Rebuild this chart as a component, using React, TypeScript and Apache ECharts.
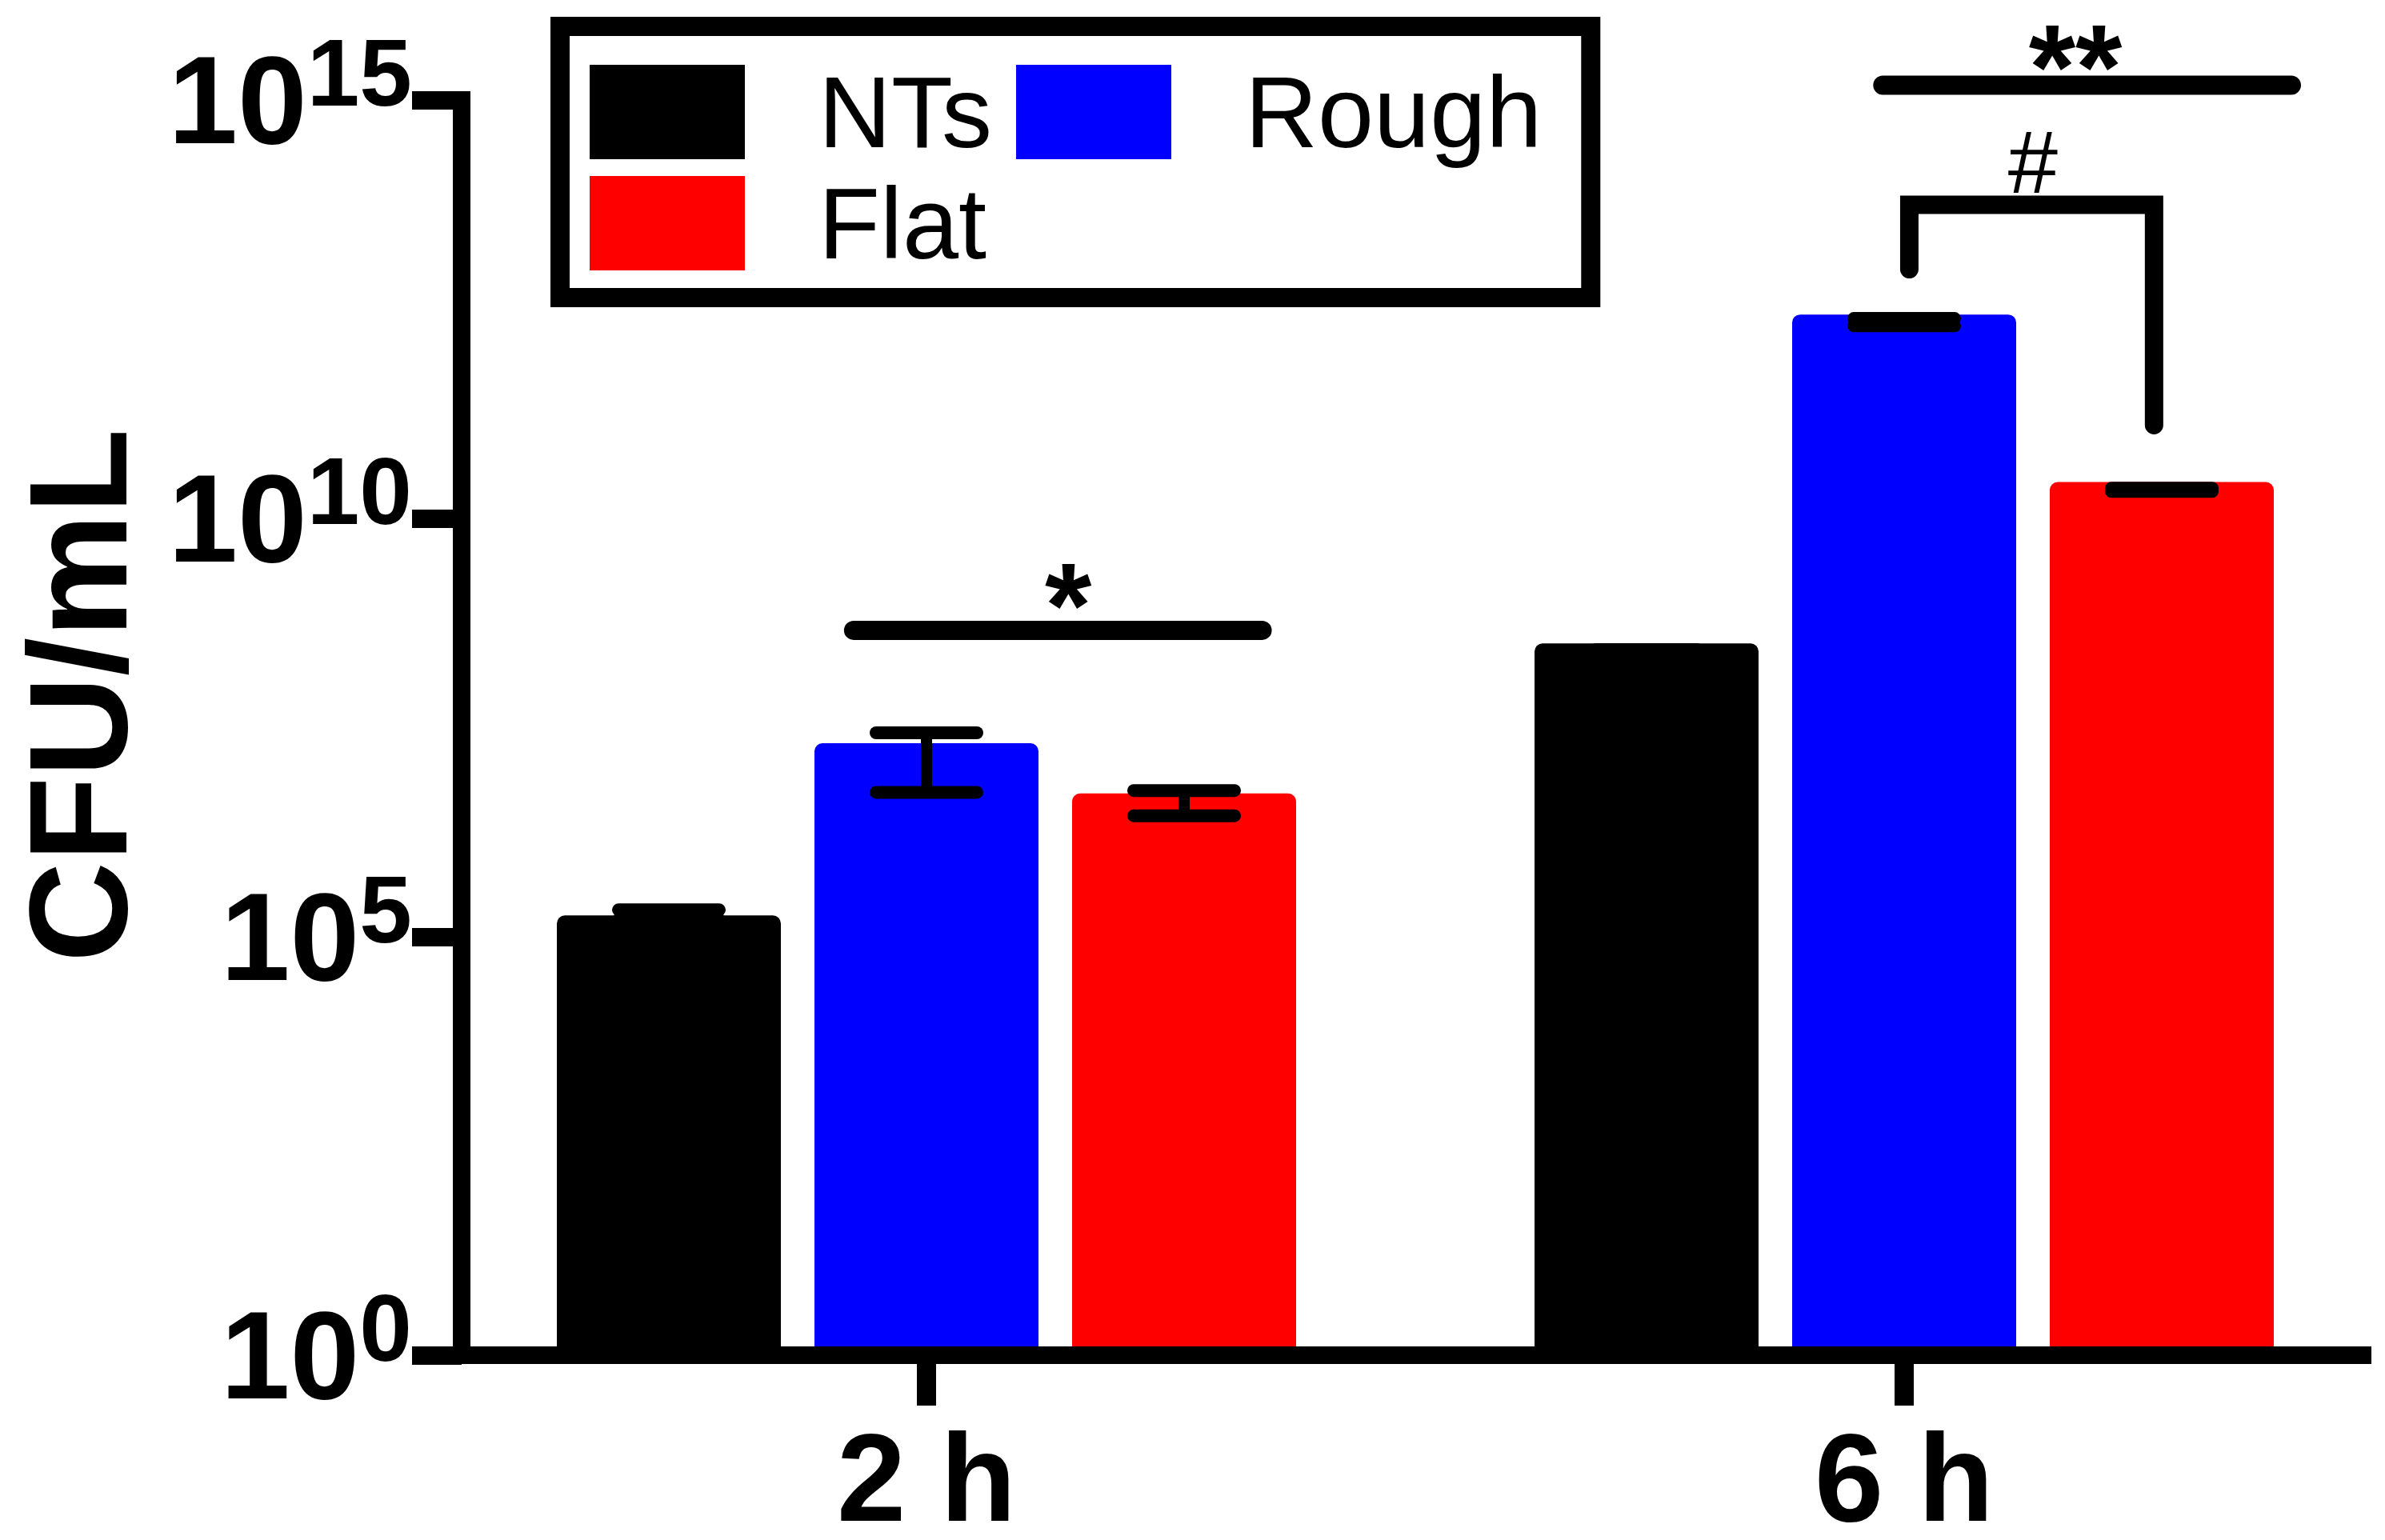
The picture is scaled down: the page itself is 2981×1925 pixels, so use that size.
import React, { useEffect, useRef } from "react";
import * as echarts from "echarts";

// ---------- data ----------
const categories = ["2 h", "6 h"];
const seriesNames = ["NTs", "Rough", "Flat"];
const seriesColors = ["#000000", "#0000ff", "#ff0000"];

const ntsMean = [1.8e5, 3.2e8];
const roughMean = [2.06e7, 2.73e12];
const flatMean = [5.16e6, 2.72e10];

const ntsErrHigh = [2.1e5, 2.7e8];
const ntsErrLow = [1.6e5, 2.5e8];
const roughErrHigh = [2.74e7, 2.45e12];
const roughErrLow = [5.33e6, 2.0e12];
const flatErrHigh = [5.6e6, 2.3e10];
const flatErrLow = [2.8e6, 2.1e10];

const yTickValues = [1, 1e5, 1e10, 1e15];

// significance annotations (x in bar slots from category centre, y in data units)
const sigLines = [
  { text: "*", cat: 0, fromSlot: -0.283, toSlot: 1.303, lineAt: 4.6e8, textAt: 9.1e8, textSlot: 0.55 },
  { text: "**", cat: 1, fromSlot: -0.083, toSlot: 1.503, lineAt: 1.5e15, textAt: 2.45e15, textSlot: 0.665 },
];
const sigBrackets = [
  { text: "#", cat: 1, leftSlot: 0.02, rightSlot: 0.97, topAt: 5.6e13, leftEnd: 9.5e12, rightEnd: 1.3e11, textAt: 1.8e14, textSlot: 0.5 },
];

const means = [ntsMean, roughMean, flatMean];
const highs = [ntsErrHigh, roughErrHigh, flatErrHigh];
const lows = [ntsErrLow, roughErrLow, flatErrLow];

// ---------- layout ----------
const FONT = 'Arial, "Liberation Sans", Helvetica, sans-serif';
const BAR_W = 280;
const BAR_GAP = 0.15;
const STEP = BAR_W * (1 + BAR_GAP);
const PLOT_TOP = 125;
const PLOT_H = 1569;

export default function App() {
  const ref = useRef<HTMLDivElement>(null);

  useEffect(() => {
    document.body.style.margin = "0";
    if (!ref.current) return;
    const chart = echarts.init(ref.current, null, { renderer: "svg" });

    const barSeries = seriesNames.map((name, i) => ({
      name,
      type: "bar",
      xAxisIndex: 1,
      yAxisIndex: 1,
      barWidth: BAR_W,
      barGap: `${BAR_GAP * 100}%`,
      itemStyle: { color: seriesColors[i], borderRadius: [10, 10, 0, 0] },
      z: 2,
      data: means[i],
    }));

    const errSeries = seriesNames.map((name, i) => ({
      type: "custom",
      name: name + " err",
      xAxisIndex: 1,
      yAxisIndex: 1,
      z: 4,
      clip: false,
      encode: { x: 0, y: [1, 2] },
      data: categories.map((_, ci) => [ci, highs[i][ci], lows[i][ci]]),
      renderItem: (params: any, api: any) => {
        const ci = api.value(0);
        const top = api.coord([ci, api.value(1)]);
        const bot = api.coord([ci, api.value(2)]);
        const x = top[0] + (i - 1) * STEP;
        const half = 63;
        return {
          type: "group",
          children: [
            { type: "line", shape: { x1: x, y1: top[1], x2: x, y2: bot[1] }, style: { stroke: "#000", lineWidth: 14 } },
            { type: "line", shape: { x1: x - half, y1: top[1], x2: x + half, y2: top[1] }, style: { stroke: "#000", lineWidth: 16, lineCap: "round" } },
            { type: "line", shape: { x1: x - half, y1: bot[1], x2: x + half, y2: bot[1] }, style: { stroke: "#000", lineWidth: 16, lineCap: "round" } },
          ],
        };
      },
    }));

    const lineSeries = {
      type: "custom",
      xAxisIndex: 1,
      yAxisIndex: 1,
      z: 5,
      clip: false,
      data: sigLines.map((s) => [s.cat, s.lineAt]),
      renderItem: (params: any, api: any) => {
        const s = sigLines[params.dataIndex];
        const c = api.coord([s.cat, s.lineAt]);
        const t = api.coord([s.cat, s.textAt]);
        return {
          type: "group",
          children: [
            { type: "line", shape: { x1: c[0] + s.fromSlot * STEP, y1: c[1], x2: c[0] + s.toSlot * STEP, y2: c[1] }, style: { stroke: "#000", lineWidth: 24, lineCap: "round" } },
            { type: "text", style: { text: s.text, x: t[0] + s.textSlot * STEP, y: t[1], fontSize: 150, lineHeight: 56, fontWeight: "bold", fontFamily: FONT, fill: "#000", align: "center", verticalAlign: "middle" } },
          ],
        };
      },
    };

    const bracketSeries = {
      type: "custom",
      xAxisIndex: 1,
      yAxisIndex: 1,
      z: 5,
      clip: false,
      data: sigBrackets.map((b) => [b.cat, b.topAt]),
      renderItem: (params: any, api: any) => {
        const b = sigBrackets[params.dataIndex];
        const top = api.coord([b.cat, b.topAt]);
        const le = api.coord([b.cat, b.leftEnd]);
        const re = api.coord([b.cat, b.rightEnd]);
        const t = api.coord([b.cat, b.textAt]);
        const xl = top[0] + b.leftSlot * STEP;
        const xr = top[0] + b.rightSlot * STEP;
        return {
          type: "group",
          children: [
            { type: "polyline", shape: { points: [[xl, le[1]], [xl, top[1]], [xr, top[1]], [xr, re[1]]] }, style: { stroke: "#000", lineWidth: 23, lineCap: "round", lineJoin: "miter", fill: "none" } },
            { type: "text", style: { text: b.text, x: t[0] + b.textSlot * STEP, y: t[1], fontSize: 112, lineHeight: 84, fontFamily: FONT, fill: "#000", align: "center", verticalAlign: "middle" } },
          ],
        };
      },
    };

    const option: any = {
      animation: false,
      backgroundColor: "#ffffff",
      textStyle: { fontFamily: FONT },
      grid: [
        { left: 577, top: PLOT_TOP, width: 2376, height: PLOT_H, containLabel: false, outerBoundsMode: "none" },
        { left: 547, top: PLOT_TOP, width: 2444, height: PLOT_H, containLabel: false, outerBoundsMode: "none" },
      ],
      legend: {
        data: seriesNames,
        left: 700,
        top: 33,
        width: 1230,
        orient: "horizontal",
        icon: "rect",
        itemWidth: 194,
        itemHeight: 118,
        itemGap: 13,
        selectedMode: false,
        borderColor: "#000",
        borderWidth: 24,
        borderRadius: 0,
        padding: [44, 44, 30, 37],
        backgroundColor: "#fff",
        textStyle: { fontSize: 126, lineHeight: 118, color: "#000", fontFamily: FONT, padding: [0, 17, 0, 87] },
      },
      xAxis: [
        {
          gridIndex: 0,
          type: "value",
          min: 0,
          max: 1,
          z: 6,
          axisLine: { show: true, lineStyle: { color: "#000", width: 22, cap: "square" } },
          axisTick: { show: false },
          axisLabel: { show: false },
          splitLine: { show: false },
        },
        {
          gridIndex: 1,
          type: "category",
          data: categories,
          boundaryGap: true,
          z: 6,
          axisLine: { show: false },
          axisTick: { show: true, alignWithLabel: true, length: 63, lineStyle: { color: "#000", width: 24 } },
          axisLabel: { show: true, margin: 98, fontSize: 155, lineHeight: 110, fontWeight: "bold", color: "#000", fontFamily: FONT, interval: 0 },
          splitLine: { show: false },
        },
      ],
      yAxis: [
        {
          gridIndex: 0,
          type: "log",
          logBase: 10,
          min: yTickValues[0],
          max: yTickValues[yTickValues.length - 1],
          interval: 5,
          z: 6,
          name: "CFU/mL",
          nameLocation: "middle",
          nameRotate: 90,
          nameGap: 410,
          nameTextStyle: { fontSize: 174, lineHeight: 140, fontWeight: "bold", color: "#000", fontFamily: FONT, padding: [0, 0, 0, 80] },
          axisLine: { show: true, lineStyle: { color: "#000", width: 22, cap: "square" } },
          axisTick: { show: true, length: 62, lineStyle: { color: "#000", width: 23 } },
          splitLine: { show: false },
          axisLabel: {
            show: true,
            margin: 62,
            formatter: (v: number) => `{b|10}{s|${Math.round(Math.log10(v))}}`,
            rich: {
              b: { fontSize: 156, fontWeight: "bold", color: "#000", fontFamily: FONT, lineHeight: 186 },
              s: { fontSize: 118, fontWeight: "bold", color: "#000", fontFamily: FONT, lineHeight: 112, verticalAlign: "top" },
            },
          },
        },
        {
          gridIndex: 1,
          type: "log",
          logBase: 10,
          min: yTickValues[0],
          max: yTickValues[yTickValues.length - 1],
          interval: 5,
          show: false,
          splitLine: { show: false },
        },
      ],
      series: [...barSeries, ...errSeries, lineSeries, bracketSeries],
    };

    chart.setOption(option);
    return () => chart.dispose();
  }, []);

  return <div ref={ref} style={{ width: 2981, height: 1925 }} />;
}
